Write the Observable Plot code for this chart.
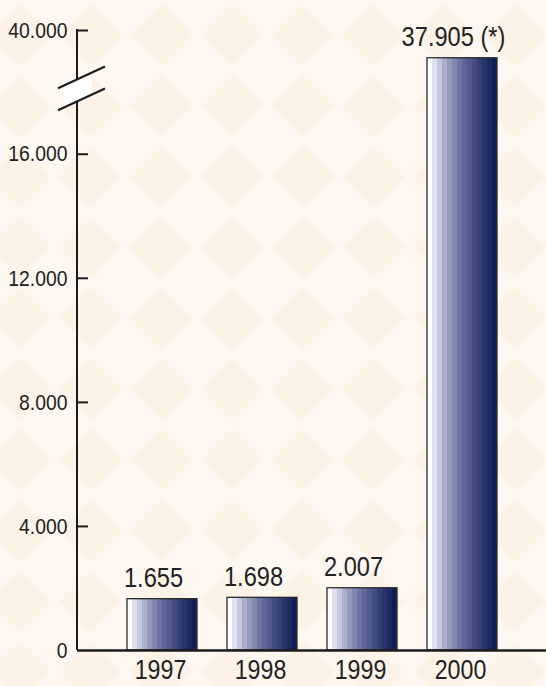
<!DOCTYPE html>
<html><head><meta charset="utf-8">
<script src="https://cdn.jsdelivr.net/npm/d3@7"></script>
<script src="https://cdn.jsdelivr.net/npm/@observablehq/plot@0.6"></script>
<style>
html,body{margin:0;padding:0;background:#fef6ee;}
#chart svg{display:block}
</style></head><body><div id="chart"></div>
<script>
// ---- data ----
const years = ["1997", "1998", "1999", "2000"];
const values = [1655, 1698, 2007, 37905];
const notes = ["", "", "", " (*)"];
const yTicks = [0, 4000, 8000, 12000, 16000, 40000];
const yBreak = [17700, 36300]; // value span hidden by the axis break

// ---- layout / style ----
const W = 546, H = 686, mL = 77, mR = 0, mT = 30, mB = 36;
const ink = "#1c1c1c";
const font = '"Liberation Sans",Arial,sans-serif';
const narrow = 0.86; // horizontal squeeze to mimic a condensed face
const barColors = ["#ffffff", "#dfe1ee", "#c5c8de", "#abafcc", "#9499be", "#8087b1", "#6e75a4",
  "#5e6698", "#50588c", "#434c81", "#363f75", "#29346b", "#1d2a61", "#0f1f56"];

const locale = d3.formatLocale({decimal: ",", thousands: ".", grouping: [3], currency: ["", ""]});
const fmt = locale.format(",d");
const data = years.map((year, i) => ({year, value: values[i], label: fmt(values[i]) + notes[i]}));

// background + gradient defs
function backdrop(index, scales, values, dims) {
  const g = d3.create("svg:g");
  const defs = g.append("defs");
  const pat = defs.append("pattern").attr("id", "diamonds").attr("patternUnits", "userSpaceOnUse")
    .attr("width", 100).attr("height", 100).attr("patternTransform", "translate(20,0) rotate(45)");
  pat.append("rect").attr("width", 100).attr("height", 100).attr("fill", "#fef7f0");
  pat.append("rect").attr("x", 3).attr("y", 3).attr("width", 44).attr("height", 44).attr("fill", "#fdf2e6");
  pat.append("rect").attr("x", 53).attr("y", 53).attr("width", 44).attr("height", 44).attr("fill", "#fdf2e6");
  const grad = defs.append("linearGradient").attr("id", "barGrad").attr("x1", 0).attr("x2", 1).attr("y1", 0).attr("y2", 0);
  const n = barColors.length;
  barColors.forEach((c, i) => {
    grad.append("stop").attr("offset", i / n).attr("stop-color", c);
    grad.append("stop").attr("offset", (i + 1) / n).attr("stop-color", c);
  });
  g.append("rect").attr("width", dims.width).attr("height", dims.height).attr("fill", "url(#diamonds)");
  return g.node();
}

function axisLine(index, scales, values, dims) {
  const x = dims.marginLeft;
  return d3.create("svg:line").attr("x1", x).attr("x2", x)
    .attr("y1", scales.y(yTicks[yTicks.length - 1]) - 1).attr("y2", scales.y(0))
    .attr("stroke", ink).attr("stroke-width", 2).node();
}

function axisBreak(index, scales, values, dims) {
  const x = dims.marginLeft + 1;
  const yLo = scales.y(yBreak[0]), yHi = scales.y(yBreak[1]);
  const k = 0.46;
  const g = d3.create("svg:g");
  const a = 14;
  g.append("path")
    .attr("d", `M${x - a},${yLo + a * k} L${x + a},${yLo - a * k} L${x + a},${yHi - a * k} L${x - a},${yHi + a * k} Z`)
    .attr("fill", "#ffffff");
  for (const yy of [yLo, yHi]) {
    g.append("line").attr("x1", x - 20).attr("y1", yy + 20 * k).attr("x2", x + 27).attr("y2", yy - 27 * k)
      .attr("stroke", ink).attr("stroke-width", 2.2);
  }
  return g.node();
}

const chart = Plot.plot({
  width: W, height: H,
  marginLeft: mL, marginRight: mR, marginTop: mT, marginBottom: mB,
  style: {background: "transparent", fontFamily: font, color: ink},
  x: {type: "band", domain: years, paddingInner: 0.3, paddingOuter: 0.49, label: null},
  y: {type: "linear", domain: [0, yBreak[0], yBreak[1], 40000], range: [H - mB, 101, 79, mT], label: null},
  marks: [
    backdrop,
    Plot.barY(data, {x: "year", y: "value", fill: "url(#barGrad)", stroke: "#2a2a2a", strokeWidth: 1.3}),
    Plot.ruleY([0], {stroke: ink, strokeWidth: 2.5}),
    axisLine,
    Plot.tickY(yTicks.filter(d => d > 0), {y: d => d, stroke: ink, strokeWidth: 2, insetRight: W - mL - mR - 11}),
    axisBreak,
    Plot.axisY({ticks: yTicks, tickSize: 0, tickPadding: 10, fontSize: 22.5, tickFormat: fmt, fill: "#222"}),
    Plot.axisX({tickSize: 0, tickPadding: 9, fontSize: 27, fill: "#222", dx: -2}),
    Plot.text(data, {x: "year", y: "value", text: "label", lineAnchor: "bottom", dy: -12, dx: -9, fontSize: 27.5, fill: "#222"})
  ]
});
chart.querySelectorAll("text").forEach(t => {
  const tr = t.getAttribute("transform") || "";
  t.setAttribute("transform", `${tr} scale(${narrow},1)`);
});
document.getElementById("chart").append(chart);
</script>
</body></html>
